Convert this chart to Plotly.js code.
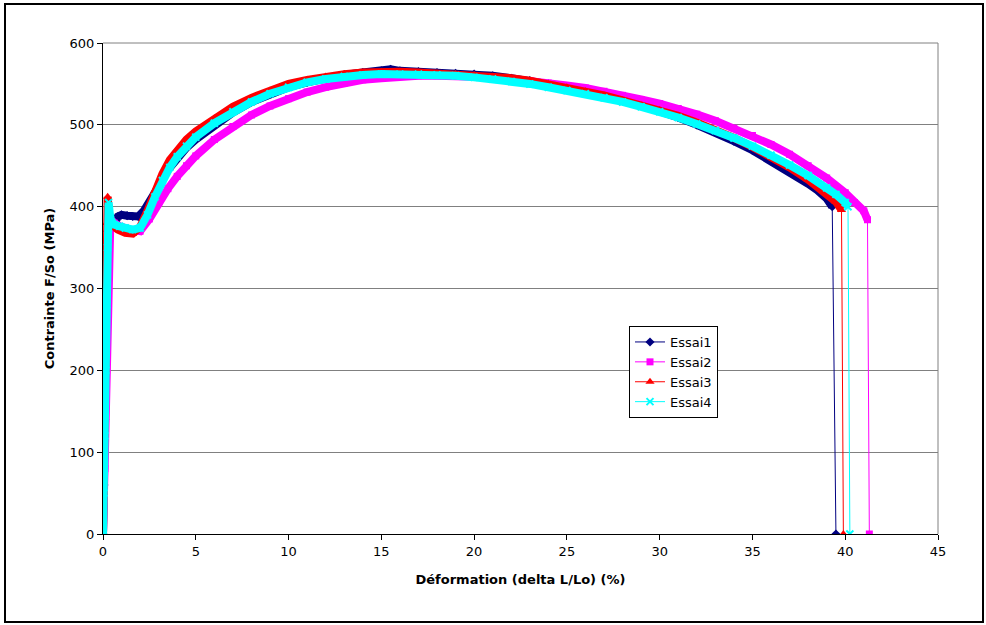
<!DOCTYPE html>
<html>
<head>
<meta charset="utf-8">
<script src="https://cdn.plot.ly/plotly-3.0.1.min.js"></script>
<style>html,body{margin:0;padding:0;background:#fff;}#chart{width:986px;height:625px;}</style>
</head>
<body>
<div id="chart"></div>
<script>
// Essai1 (navy)
const x1 = [0, 0.05, 0.1, 0.15, 0.2, 0.25, 0.3, 0.4, 0.6, 0.8, 1.0, 1.3, 1.6, 1.9, 2.2, 2.5, 3, 3.5, 4, 4.5, 5, 6, 7, 8, 9, 10, 11, 12, 13, 14, 15, 15.5, 16, 17, 18, 19, 20, 21, 22, 23, 24, 25, 26, 27, 28, 29, 30, 31, 32, 33, 34, 35, 36, 37, 38, 38.5, 39, 39.3, 39.5];
const y1 = [0, 60, 140, 230, 310, 370, 385, 380, 378, 388, 390, 389, 388, 388, 395, 405, 425, 445, 460, 472, 482, 500, 515, 528, 538, 546, 552, 557, 561, 564, 566, 568, 566, 565, 564, 563, 562, 560, 557, 554, 550, 546, 542, 537, 531, 524, 517, 509, 500, 491, 480, 469, 456, 443, 428, 420, 410, 400, 0];
// Essai2 (magenta)
const x2 = [0, 0.1, 0.2, 0.3, 0.4, 0.6, 1.0, 1.5, 2.0, 2.5, 3, 3.5, 4, 4.5, 5, 6, 7, 8, 9, 10, 11, 12, 13, 14, 15, 16, 17, 18, 19, 20, 21, 22, 23, 24, 25, 26, 27, 28, 29, 30, 31, 32, 33, 34, 35, 36, 37, 38, 39, 40, 40.5, 41, 41.2, 41.3];
const y2 = [0, 80, 200, 320, 385, 380, 375, 372, 370, 385, 405, 422, 437, 450, 462, 482, 498, 512, 523, 532, 540, 546, 551, 555, 557, 559, 560, 560, 560, 559, 558, 556, 554, 551, 548, 545, 541, 536, 531, 526, 520, 513, 505, 496, 487, 476, 464, 450, 435, 417, 405, 395, 384, 0];
// Essai3 (red)
const x3 = [0, 0.05, 0.1, 0.15, 0.2, 0.25, 0.35, 0.5, 0.8, 1.2, 1.6, 2.0, 2.4, 2.8, 3.2, 3.6, 4, 4.5, 5, 6, 7, 8, 9, 10, 11, 12, 13, 14, 15, 16, 17, 18, 19, 20, 21, 22, 23, 24, 25, 26, 27, 28, 29, 30, 31, 32, 33, 34, 35, 36, 37, 38, 39, 39.5, 39.8, 39.9];
const y3 = [0, 100, 200, 300, 380, 412, 385, 378, 372, 368, 367, 375, 395, 420, 440, 457, 470, 482, 492, 508, 522, 533, 542, 550, 555, 559, 562, 564, 565, 565, 564, 563, 562, 561, 559, 557, 554, 550, 546, 541, 536, 530, 524, 518, 511, 503, 494, 484, 473, 461, 448, 433, 416, 406, 396, 0];
// Essai4 (cyan)
const x4 = [0, 0.05, 0.1, 0.15, 0.2, 0.25, 0.3, 0.4, 0.6, 0.9, 1.2, 1.6, 2.0, 2.4, 2.8, 3.2, 3.6, 4, 4.5, 5, 6, 7, 8, 9, 10, 11, 12, 13, 14, 15, 16, 17, 18, 19, 20, 21, 22, 23, 24, 25, 26, 27, 28, 29, 30, 31, 32, 33, 34, 35, 36, 37, 38, 39, 39.5, 40, 40.15, 40.25];
const y4 = [0, 50, 120, 200, 280, 350, 405, 385, 378, 376, 374, 372, 374, 390, 412, 432, 448, 461, 474, 485, 502, 516, 528, 538, 546, 552, 556, 559, 561, 562, 562, 562, 561, 560, 558, 556, 553, 550, 546, 542, 538, 533, 528, 522, 516, 509, 501, 493, 484, 474, 463, 451, 438, 423, 415, 405, 400, 0];

const names = ['Essai1', 'Essai2', 'Essai3', 'Essai4'];
const colors = ['#000080', '#FF00FF', '#FF0000', '#00FFFF'];
const symbols = ['diamond', 'square', 'triangle-up', 'x-thin'];
const xs = [x1, x2, x3, x4];
const ys = [y1, y2, y3, y4];

const traces = [];
for (let i = 0; i < 4; i++) {
  // thick band (dense markers in the original), excluding the final drop
  traces.push({
    x: xs[i].slice(0, -1), y: ys[i].slice(0, -1),
    mode: 'lines', type: 'scatter', showlegend: false, hoverinfo: 'skip',
    line: {color: colors[i], width: 8, shape: 'linear'}
  });
  const mk = {symbol: symbols[i], size: i === 2 ? 8 : 7, color: colors[i]};
  if (symbols[i] === 'x-thin') { mk.line = {color: colors[i], width: 2}; }
  traces.push({
    x: xs[i], y: ys[i], name: names[i],
    mode: 'lines+markers', type: 'scatter',
    line: {color: colors[i], width: 1},
    marker: mk
  });
}

const L = 103, R = 48, T = 43, B = 91;
const pw = 986 - L - R, ph = 625 - T - B;
const px = v => (v - L) / pw;
const py = v => (625 - B - v) / ph;
const FONT = 'DejaVu Sans, Arial, sans-serif';

const layout = {
  width: 986, height: 625,
  margin: {l: L, r: R, t: T, b: B},
  paper_bgcolor: '#ffffff', plot_bgcolor: '#ffffff',
  font: {family: FONT, size: 13, color: '#000'},
  showlegend: true,
  legend: {
    x: px(629), y: py(326), xanchor: 'left', yanchor: 'top',
    bgcolor: '#ffffff', bordercolor: '#000000', borderwidth: 1,
    font: {family: FONT, size: 13, color: '#000'},
    tracegroupgap: 0
  },
  xaxis: {
    range: [0, 45], tickvals: [0,5,10,15,20,25,30,35,40,45],
    showgrid: false, zeroline: false,
    showline: true, linecolor: '#000', linewidth: 1,
    ticks: 'outside', ticklen: 5, tickcolor: '#000',
    tickfont: {family: FONT, size: 13},
    title: {text: '<b>Déformation (delta L/Lo) (%)</b>', font: {family: FONT, size: 13}, standoff: 17}
  },
  yaxis: {
    range: [0, 600], tickvals: [0,100,200,300,400,500,600],
    showgrid: true, gridcolor: '#808080', gridwidth: 1,
    zeroline: false,
    showline: true, linecolor: '#000', linewidth: 1,
    ticks: 'outside', ticklen: 5, tickcolor: '#000',
    tickfont: {family: FONT, size: 13},
    title: {text: '<b>Contrainte F/So (MPa)</b>', font: {family: FONT, size: 13}, standoff: 12}
  },
  shapes: [
    {type: 'line', xref: 'paper', yref: 'paper', x0: 0, x1: 1, y0: 1, y1: 1, line: {color: '#808080', width: 1}, layer: 'below'},
    {type: 'line', xref: 'paper', yref: 'paper', x0: 1, x1: 1, y0: 0, y1: 1, line: {color: '#808080', width: 1}, layer: 'below'},
    {type: 'rect', xref: 'paper', yref: 'paper', x0: px(5), x1: px(983), y0: py(622), y1: py(4), line: {color: '#000', width: 2}, fillcolor: 'rgba(0,0,0,0)', layer: 'above'}
  ]
};

Plotly.newPlot('chart', traces, layout, {displayModeBar: false, staticPlot: true});
</script>
</body>
</html>
